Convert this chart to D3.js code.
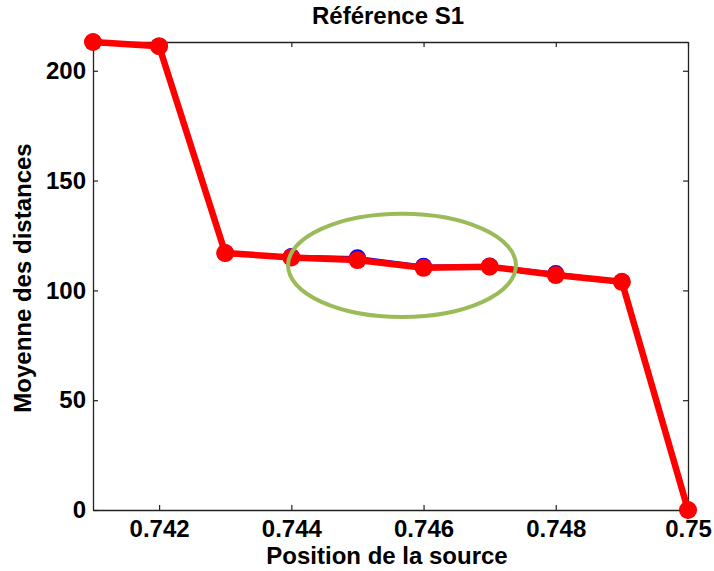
<!DOCTYPE html>
<html>
<head>
<meta charset="utf-8">
<script src="https://cdn.jsdelivr.net/npm/d3@7"></script>
<style>
  html, body { margin: 0; padding: 0; background: #fff; }
  svg text { font-family: "Liberation Sans", Arial, Helvetica, sans-serif; font-weight: bold; }
</style>
</head>
<body>
<svg id="chart" width="714" height="571"></svg>
<script>
// ---- data ----
const positions = [0.741, 0.742, 0.743, 0.744, 0.745, 0.746, 0.747, 0.748, 0.749, 0.750];
const blueValues = [213.1, 211.2, 117.1, 115.4, 114.9, 111.0, 111.1, 107.7, 103.9, 0];
const redValues  = [213.1, 211.2, 117.0, 115.0, 113.8, 110.3, 110.8, 107.0, 103.9, 0];
const xTickValues = [0.742, 0.744, 0.746, 0.748, 0.750];
const xTickLabels = ["0.742", "0.744", "0.746", "0.748", "0.75"];
const yTickValues = [0, 50, 100, 150, 200];
const yTickLabels = ["0", "50", "100", "150", "200"];
const highlight = { cx: 0.745674, cy: 111.4, rx: 0.001724, ry: 23.5 };
const titleText = "Référence S1";
const xLabelText = "Position de la source";
const yLabelText = "Moyenne des distances";

// ---- layout ----
const W = 714, H = 571;
const m = { left: 93, top: 42, right: 714 - 688, bottom: 571 - 510 };
const iw = W - m.left - m.right, ih = H - m.top - m.bottom;

const svg = d3.select("#chart");
const g = svg.append("g").attr("transform", `translate(${m.left},${m.top})`);

const x = d3.scaleLinear().domain([0.741, 0.750]).range([0, iw]);
const y = d3.scaleLinear().domain([0, 213.1]).range([ih, 0]);

function styleAxis(sel, showLabels) {
  sel.select(".domain").attr("stroke", "#222").attr("stroke-width", 1.3);
  sel.selectAll(".tick line").attr("stroke", "#222").attr("stroke-width", 1.2);
  sel.selectAll(".tick text").attr("fill", "#000").style("font-size", "24px")
     .style("font-family", '"Liberation Sans", Arial, sans-serif').style("font-weight", "bold");
  if (!showLabels) sel.selectAll(".tick text").remove();
}

// axes (ticks inward on all 4 sides)
g.append("g").attr("transform", `translate(0,${ih})`)
  .call(d3.axisBottom(x).tickValues(xTickValues).tickFormat((d, i) => xTickLabels[i])
        .tickSizeInner(-5).tickSizeOuter(0).tickPadding(10))
  .call(s => styleAxis(s, true));
g.append("g")
  .call(d3.axisTop(x).tickValues(xTickValues).tickSizeInner(-5).tickSizeOuter(0))
  .call(s => styleAxis(s, false));
g.append("g")
  .call(d3.axisLeft(y).tickValues(yTickValues).tickFormat((d, i) => yTickLabels[i])
        .tickSizeInner(-5).tickSizeOuter(0).tickPadding(7))
  .call(s => styleAxis(s, true));
g.append("g").attr("transform", `translate(${iw},0)`)
  .call(d3.axisRight(y).tickValues(yTickValues).tickSizeInner(-5).tickSizeOuter(0))
  .call(s => styleAxis(s, false));

// series
const line = d3.line().x(d => x(d[0])).y(d => y(d[1]));
const blueData = positions.map((p, i) => [p, blueValues[i]]);
const redData = positions.map((p, i) => [p, redValues[i]]);

g.append("path").datum(blueData).attr("d", line)
  .attr("fill", "none").attr("stroke", "#0000ff").attr("stroke-width", 3.5).attr("stroke-linejoin", "round");
g.selectAll("circle.blue").data(blueData).enter().append("circle").attr("class", "blue")
  .attr("cx", d => x(d[0])).attr("cy", d => y(d[1])).attr("r", 8.5).attr("fill", "#0000ff");

g.append("path").datum(redData).attr("d", line)
  .attr("fill", "none").attr("stroke", "#ff0000").attr("stroke-width", 6.5).attr("stroke-linejoin", "round");
g.selectAll("circle.red").data(redData).enter().append("circle").attr("class", "red")
  .attr("cx", d => x(d[0])).attr("cy", d => y(d[1])).attr("r", 9).attr("fill", "#ff0000");

// highlight ellipse
g.append("ellipse")
  .attr("cx", x(highlight.cx)).attr("cy", y(highlight.cy))
  .attr("rx", x(highlight.cx + highlight.rx) - x(highlight.cx))
  .attr("ry", y(highlight.cy - highlight.ry) - y(highlight.cy))
  .attr("fill", "none").attr("stroke", "#9bbb59").attr("stroke-width", 4);

// labels
svg.append("text").attr("x", 388).attr("y", 24).attr("text-anchor", "middle")
  .style("font-size", "24px").attr("fill", "#000").text(titleText);
svg.append("text").attr("x", 387).attr("y", 564).attr("text-anchor", "middle")
  .style("font-size", "24px").attr("fill", "#000").text(xLabelText);
svg.append("text").attr("transform", "translate(31,278) rotate(-90)").attr("text-anchor", "middle")
  .style("font-size", "24px").attr("fill", "#000").text(yLabelText);
</script>
</body>
</html>
